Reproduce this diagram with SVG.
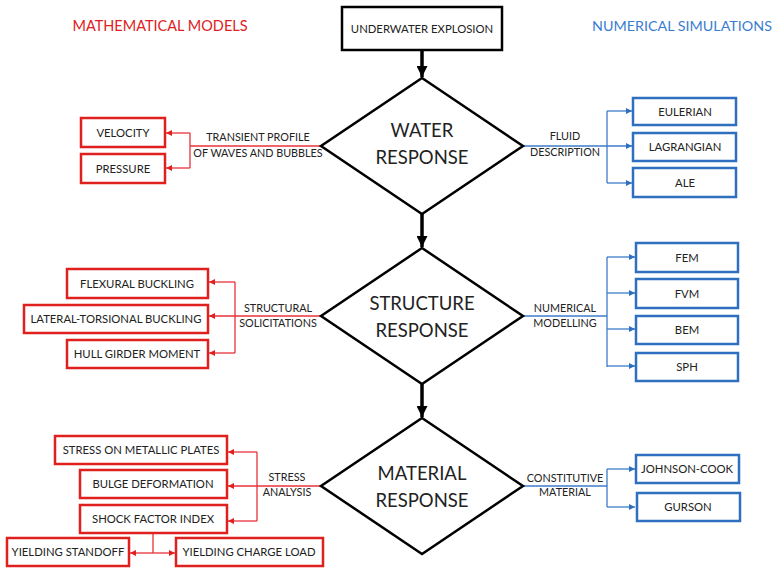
<svg xmlns="http://www.w3.org/2000/svg" width="777" height="568" viewBox="0 0 777 568">
<style>
text{font-family:Lato,"Liberation Sans",sans-serif;fill:#222;text-anchor:middle}
.box{fill:#fff;stroke:#000;stroke-width:2.5}
.rbox{fill:#fff;stroke:#e0201e;stroke-width:2.5}
.bbox{fill:#fff;stroke:#2e6fbf;stroke-width:2.5}
.dia{fill:#fff;stroke:#000;stroke-width:2.5}
.bt{font-size:11.3px}
.lab{font-size:10.8px}
.dt{font-size:18.5px}
.rl{fill:none;stroke:#e8323a;stroke-width:1.3}
.bl{fill:none;stroke:#3d7cc9;stroke-width:1.3}
.kl{fill:none;stroke:#000;stroke-width:3.5}
</style>
<defs>
<marker id="ar" viewBox="0 0 10 10" refX="10" refY="5" markerWidth="6" markerHeight="6" markerUnits="userSpaceOnUse" orient="auto"><path d="M0,0 L10,5 L0,10 z" fill="#e0201e"/></marker>
<marker id="ab" viewBox="0 0 10 10" refX="10" refY="5" markerWidth="6" markerHeight="6" markerUnits="userSpaceOnUse" orient="auto"><path d="M0,0 L10,5 L0,10 z" fill="#2e6fbf"/></marker>
<marker id="ak" viewBox="0 0 10 10" refX="10" refY="5" markerWidth="11" markerHeight="11" markerUnits="userSpaceOnUse" orient="auto"><path d="M0,0 L10,5 L0,10 z" fill="#000"/></marker>
</defs>

<text x="160" y="31" style="font-size:14.5px;fill:#e0201e">MATHEMATICAL MODELS</text>
<text x="682" y="31" style="font-size:14.3px;fill:#3a7dd0">NUMERICAL SIMULATIONS</text>

<g id="connectors">
<path class="kl" d="M422,50 V77" marker-end="url(#ak)"/>
<path class="kl" d="M422,214 V247" marker-end="url(#ak)"/>
<path class="kl" d="M422,384 V417" marker-end="url(#ak)"/>
<path class="rl" d="M321,146 H190"/>
<path class="rl" d="M190,133 V168"/>
<path class="rl" d="M190,133 H166" marker-end="url(#ar)"/>
<path class="rl" d="M190,168 H166" marker-end="url(#ar)"/>
<path class="bl" d="M523,146 H632" marker-end="url(#ab)"/>
<path class="bl" d="M607,111 V183"/>
<path class="bl" d="M607,111 H632" marker-end="url(#ab)"/>
<path class="bl" d="M607,183 H632" marker-end="url(#ab)"/>
<path class="rl" d="M321,316 H209" marker-end="url(#ar)"/>
<path class="rl" d="M235,282 V353"/>
<path class="rl" d="M235,282 H209" marker-end="url(#ar)"/>
<path class="rl" d="M235,353 H209" marker-end="url(#ar)"/>
<path class="bl" d="M523,316 H607"/>
<path class="bl" d="M607,257 V367"/>
<path class="bl" d="M607,257 H635" marker-end="url(#ab)"/>
<path class="bl" d="M607,293 H635" marker-end="url(#ab)"/>
<path class="bl" d="M607,329 H635" marker-end="url(#ab)"/>
<path class="bl" d="M607,366 H635" marker-end="url(#ab)"/>
<path class="rl" d="M321,486 H228" marker-end="url(#ar)"/>
<path class="rl" d="M257,452 V521"/>
<path class="rl" d="M257,452 H228" marker-end="url(#ar)"/>
<path class="rl" d="M257,521 H228" marker-end="url(#ar)"/>
<path class="rl" d="M153,533 V553"/>
<path class="rl" d="M153,553 H130" marker-end="url(#ar)"/>
<path class="rl" d="M153,553 H175" marker-end="url(#ar)"/>
<path class="bl" d="M523,486 H607"/>
<path class="bl" d="M607,469 V507"/>
<path class="bl" d="M607,469 H635" marker-end="url(#ab)"/>
<path class="bl" d="M607,507 H635" marker-end="url(#ab)"/>
</g>

<g id="labels">
<text class="lab" x="258" y="141">TRANSIENT PROFILE</text>
<text class="lab" x="258" y="157">OF WAVES AND BUBBLES</text>
<text class="lab" x="565" y="140">FLUID</text>
<text class="lab" x="565" y="156">DESCRIPTION</text>
<text class="lab" x="278" y="312">STRUCTURAL</text>
<text class="lab" x="278" y="327">SOLICITATIONS</text>
<text class="lab" x="565" y="312">NUMERICAL</text>
<text class="lab" x="565" y="327">MODELLING</text>
<text class="lab" x="287" y="481">STRESS</text>
<text class="lab" x="287" y="496">ANALYSIS</text>
<text class="lab" x="565" y="482">CONSTITUTIVE</text>
<text class="lab" x="565" y="496">MATERIAL</text>
</g>

<g id="underwater-explosion"><rect class="box" x="342" y="7" width="160" height="43"/><text class="bt" x="422" y="33">UNDERWATER EXPLOSION</text></g>

<g id="water-response"><path class="dia" d="M422,78 L523,146 L422,214 L321,146 Z"/><text class="dt" x="422" y="137">WATER</text><text class="dt" x="422" y="164">RESPONSE</text></g>
<g id="structure-response"><path class="dia" d="M422,248 L523,316 L422,384 L321,316 Z"/><text class="dt" x="422" y="310">STRUCTURE</text><text class="dt" x="422" y="337">RESPONSE</text></g>
<g id="material-response"><path class="dia" d="M422,418 L523,486 L422,554 L321,486 Z"/><text class="dt" x="422" y="480">MATERIAL</text><text class="dt" x="422" y="507">RESPONSE</text></g>

<g id="velocity"><rect class="rbox" x="81" y="118" width="84" height="29"/><text class="bt" x="123" y="137">VELOCITY</text></g>
<g id="pressure"><rect class="rbox" x="81" y="154" width="84" height="29"/><text class="bt" x="123" y="173">PRESSURE</text></g>

<g id="eulerian"><rect class="bbox" x="633" y="98" width="103" height="27"/><text class="bt" x="685" y="116">EULERIAN</text></g>
<g id="lagrangian"><rect class="bbox" x="633" y="133" width="103" height="28"/><text class="bt" x="685" y="151">LAGRANGIAN</text></g>
<g id="ale"><rect class="bbox" x="633" y="168" width="103" height="29"/><text class="bt" x="685" y="187">ALE</text></g>

<g id="flexural-buckling"><rect class="rbox" x="67" y="269" width="141" height="29"/><text class="bt" x="137" y="288">FLEXURAL BUCKLING</text></g>
<g id="lateral-torsional-buckling"><rect class="rbox" x="24" y="305" width="184" height="28"/><text class="bt" x="116" y="323">LATERAL-TORSIONAL BUCKLING</text></g>
<g id="hull-girder-moment"><rect class="rbox" x="67" y="340" width="141" height="28"/><text class="bt" x="137" y="358">HULL GIRDER MOMENT</text></g>

<g id="fem"><rect class="bbox" x="636" y="243" width="102" height="29"/><text class="bt" x="687" y="262">FEM</text></g>
<g id="fvm"><rect class="bbox" x="636" y="279" width="102" height="29"/><text class="bt" x="687" y="298">FVM</text></g>
<g id="bem"><rect class="bbox" x="636" y="316" width="102" height="28"/><text class="bt" x="687" y="334">BEM</text></g>
<g id="sph"><rect class="bbox" x="636" y="353" width="102" height="28"/><text class="bt" x="687" y="371">SPH</text></g>

<g id="stress-on-metallic-plates"><rect class="rbox" x="55" y="436" width="172" height="28"/><text class="bt" x="141" y="454">STRESS ON METALLIC PLATES</text></g>
<g id="bulge-deformation"><rect class="rbox" x="80" y="470" width="147" height="28"/><text class="bt" x="153" y="488">BULGE DEFORMATION</text></g>
<g id="shock-factor-index"><rect class="rbox" x="80" y="505" width="147" height="28"/><text class="bt" x="153" y="523">SHOCK FACTOR INDEX</text></g>
<g id="yielding-standoff"><rect class="rbox" x="7" y="538" width="122" height="28"/><text class="bt" x="68" y="556">YIELDING STANDOFF</text></g>
<g id="yielding-charge-load"><rect class="rbox" x="176" y="538" width="147" height="28"/><text class="bt" x="249" y="556">YIELDING CHARGE LOAD</text></g>

<g id="johnson-cook"><rect class="bbox" x="636" y="455" width="103" height="28"/><text class="bt" x="687" y="473">JOHNSON-COOK</text></g>
<g id="gurson"><rect class="bbox" x="637" y="493" width="103" height="28"/><text class="bt" x="688" y="511">GURSON</text></g>
</svg>
